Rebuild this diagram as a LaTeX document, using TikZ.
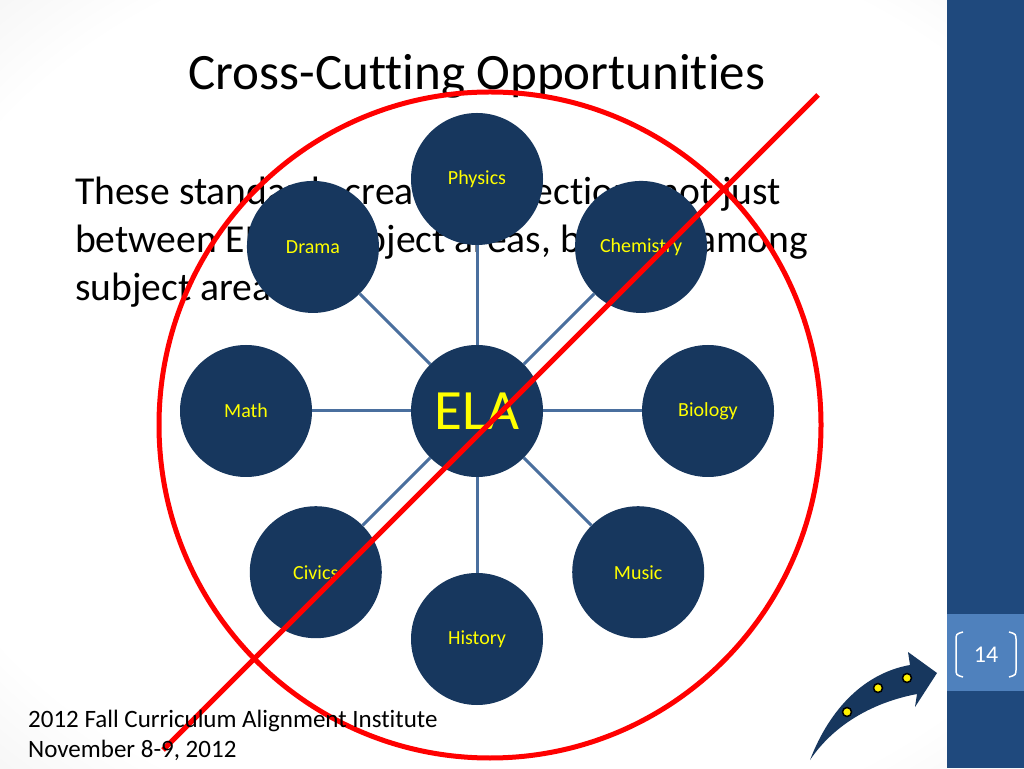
\documentclass[tikz,border=0pt]{standalone}
\usepackage{fontspec}
\setmainfont{Carlito}[Ligatures={TeX,NoCommon}]
\usepackage{tikz}
\usetikzlibrary{calc}
\definecolor{navy}{HTML}{17375E}
\definecolor{linkblue}{HTML}{4A6F9E}
\definecolor{barblue}{HTML}{1F497D}
\definecolor{tabblue}{HTML}{4F81BD}
\definecolor{labelyellow}{HTML}{FFFF00}
\pgfdeclareradialshading{slidebg}{\pgfpoint{0bp}{0bp}}{color(0bp)=(white); color(30bp)=(white); color(50bp)=(black!12); color(72bp)=(black!24)}

\begin{document}
\begin{tikzpicture}[
    x=1pt, y=1pt,
    subject/.style={circle, fill=navy, minimum size=132pt, inner sep=0pt, text=labelyellow, font=\fontsize{20}{24}\selectfont},
    link/.style={linkblue, line width=3pt},
    cross/.style={red, line width=5pt}
]
    \useasboundingbox (0,0) rectangle (1024,768);
    % slide background and side bar
    \shade[shading=slidebg] (0,0) rectangle (1024,768);
    \fill[barblue] (947,0) rectangle (1024,768);
    \fill[tabblue] (947,77) rectangle (1024,154);

    \node[anchor=base, font=\fontsize{51}{61}\selectfont] (title) at (477,678) {Cross-Cutting Opportunities};
    \node[anchor=base west, align=left, inner sep=0pt, font=\fontsize{39.6}{48}\selectfont] (body) at (75,467)
        {These standards create connections not just\\between ELA \& subject areas, but also among\\subject areas.};

    % hub and spokes
    \node[subject, font=\fontsize{57}{68}\selectfont] (ela) at (477,357) {ELA};
    \node[subject] (physics)   at ([shift={(90:232)}]ela)  {Physics};
    \node[subject] (drama)     at ([shift={(135:232)}]ela) {Drama};
    \node[subject] (chemistry) at ([shift={(45:232)}]ela)  {Chemistry};
    \node[subject] (math)      at ([shift={(180:231)}]ela) {Math};
    \node[subject] (biology)   at ([shift={(0:231)}]ela)   {Biology};
    \node[subject] (civics)    at ([shift={(225:228)}]ela) {Civics};
    \node[subject] (music)     at ([shift={(315:228)}]ela) {Music};
    \node[subject] (history)   at ([shift={(270:228)}]ela) {History};

    \draw[link] (ela) -- (physics);
    \draw[link] (ela) -- (drama);
    \draw[link] (ela) -- (chemistry);
    \draw[link] (ela) -- (math);
    \draw[link] (ela) -- (biology);
    \draw[link] (ela) -- (civics);
    \draw[link] (ela) -- (music);
    \draw[link] (ela) -- (history);

    % crossed out
    \draw[cross] (490,343) ellipse [x radius=331pt, y radius=333pt];
    \coordinate (crossA) at (818,673);
    \coordinate (crossB) at (163,18);
    \draw[cross] (crossA) -- (crossB);

    % footer
    \node[anchor=base west, align=left, inner sep=0pt, font=\fontsize{25}{30}\selectfont] (footer) at (28,11)
        {2012 Fall Curriculum Alignment Institute\\November 8-9, 2012};

    % curved arrow with dots
    \fill[navy] (810,8) .. controls (830,60) and (865,95) .. (910,103) -- (908,116) -- (937,95)
        -- (915,61) -- (917,74) .. controls (875,66) and (835,45) .. (810,8) -- cycle;
    \foreach \p in {(847,56), (878,80), (907,90)}
        \filldraw[fill=yellow, draw=black, line width=1.5pt] \p circle (4.5pt);

    % page number
    \node[text=white, font=\fontsize{24}{28}\selectfont] (page) at (986,113) {14};
    \draw[white, line width=1.5pt] (963,136) .. controls (956,134) .. (956,127) -- (956,100) .. controls (956,93) .. (963,91);
    \draw[white, line width=1.5pt] (1009,136) .. controls (1016,134) .. (1016,127) -- (1016,100) .. controls (1016,93) .. (1009,91);
\end{tikzpicture}
\end{document}
